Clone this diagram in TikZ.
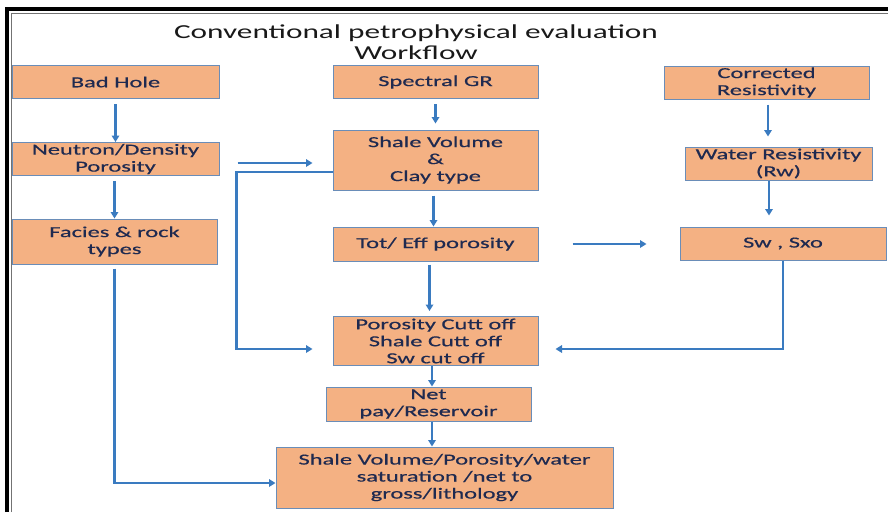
\documentclass[tikz,border=0pt]{standalone}
\usepackage{fontspec}
\setmainfont{Carlito}[FakeStretch=1.6, FakeBold=0.5]
\newfontfamily\titlefont{Carlito}[FakeStretch=1.58]
\usetikzlibrary{
  arrows.meta,
  positioning,
}
\definecolor{boxfill}{HTML}{F4B183}
\definecolor{boxline}{HTML}{6A8DB8}
\definecolor{boxtext}{HTML}{1F2A50}
\definecolor{flowline}{HTML}{3A7BC0}

\begin{document}
\begin{tikzpicture}[
  x=1pt, y=-1pt,
  box/.style={align=center, draw=boxline, line width=1pt, fill=boxfill, text=boxtext,
    inner sep=0pt, minimum width=205pt, minimum height=33pt,
    font=\fontsize{15.3}{17}\selectfont},
  flow/.style={draw=flowline, line width=2.4pt, -{Triangle[length=6.5pt, width=7.5pt]}}
]
\useasboundingbox (0,0) rectangle (888,512);
\draw[line width=4pt] (7,512) -- (7,9) -- (888,9);
\draw[line width=1.2pt, black!55] (11.5,512) -- (11.5,13.5) -- (888,13.5);
\node[align=center, anchor=base, text=black!90, font=\titlefont\fontsize{19.8}{21}\selectfont] (title) at (416,59)
  {Conventional petrophysical evaluation \\ Workflow};
\node[box, minimum width=207pt] (bad) at (115.5,82) {Bad Hole};
\node[box] (spec) at (435.5,82) {Spectral GR};
\node[box] (corr) at (766.5,82.5) {Corrected \\ Resistivity};
\node[box, minimum width=207pt] (nd) at (115.5,159) {Neutron/Density \\ Porosity};
\node[box, minimum height=45pt] (facies) at (114.5,241.5) {Facies \& rock \\ types};
\node[box, minimum height=60pt] (sv) at (435.5,160) {Shale Volume \\ \& \\ Clay type};
\node[box, minimum width=187pt] (rw) at (778.5,163.5) {Water Resistivity \\ (Rw)};
\node[box, minimum height=34pt] (tot) at (435.5,244) {Tot/ Eff porosity};
\node[box, minimum width=206pt] (sw) at (783,243.5) {Sw , Sxo};
\node[box, minimum height=49pt] (cut) at (435.5,341) {Porosity Cutt off \\ Shale Cutt off \\ Sw cut off};
\node[box, minimum height=34pt] (net) at (428.5,404) {Net \\ pay/Reservoir};
\node[box, minimum width=337pt, minimum height=61pt] (res) at (444.5,477.5)
  {Shale Volume/Porosity/water \\ saturation /net to \\ gross/lithology};
\draw[flow, shorten <=5pt] (bad) -- (nd);
\draw[flow, shorten <=5pt, shorten >=6pt] (spec) -- (sv);
\draw[flow, shorten <=5pt, shorten >=10pt] ([xshift=1.5pt]corr.south) -- ([xshift=1.5pt]corr.south |- rw.north);
\draw[flow, shorten <=5pt] ([xshift=-1pt]nd.south) -- ([xshift=-1pt]nd.south |- facies.north);
\draw[flow, shorten <=18pt, shorten >=20pt] ([yshift=-4pt]nd.east) -- ([yshift=-4pt]nd.east -| sv.west);
\draw[flow, shorten >=20pt] ([yshift=-12pt]sv.west) -- ++(-96,0) |- ([yshift=-8pt]cut.west);
\draw[flow, shorten <=5pt] ([xshift=-2pt]sv.south) -- ([xshift=-2pt]sv.south |- tot.north);
\draw[flow, shorten <=34pt, shorten >=33pt] (tot.east) -- (tot.east -| sw.west);
\draw[flow, shorten <=3pt, shorten >=5pt] ([xshift=-6pt]tot.south) -- ([xshift=-6pt]tot.south |- cut.north);
\draw[flow, shorten >=11pt] ([xshift=-9.5pt]rw.south) -- ([xshift=-9.5pt]rw.south |- sw.north);
\draw[flow, shorten >=17pt] (sw.south) |- ([yshift=-8pt]cut.east);
\draw[flow, shorten <=4pt] (facies.south) |- ([yshift=-5.5pt]res.west);
\draw[flow] ([xshift=-3.5pt]cut.south) -- ([xshift=-3.5pt]cut.south |- net.north);
\draw[flow] ([xshift=3.5pt]net.south) -- ([xshift=3.5pt]net.south |- res.north);
\end{tikzpicture}
\end{document}
